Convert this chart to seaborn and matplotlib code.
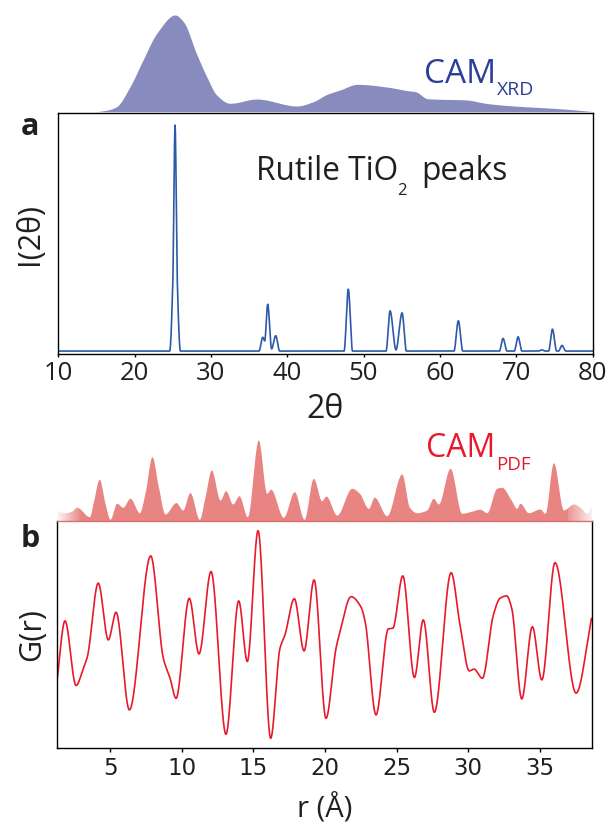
import numpy as np
import matplotlib
matplotlib.use('Agg')
import matplotlib.pyplot as plt
import seaborn as sns

# --- data ------------------------------------------------------------------
# (a) XRD pattern: 2theta / normalised intensity, read at baselines and peak tops
xrd_tt = [10, 24.6, 25.0, 25.3, 25.6, 26.0, 36.3, 36.79, 37.05, 37.44, 37.95,
          38.49, 39.0, 47.45, 48.0, 48.55, 52.95, 53.47, 54.25, 55.05, 55.6,
          61.85, 62.42, 63.0, 67.8, 68.28, 68.8, 69.75, 70.25, 70.75, 72.9,
          73.35, 73.8, 74.25, 74.75, 75.3, 75.55, 76.0, 76.5, 80]
xrd_int = [0, 0, 0.3, 1.0, 0.3, 0, 0, 0.061, 0.045, 0.207, 0.01,
           0.068, 0, 0, 0.274, 0, 0, 0.178, 0.005, 0.169, 0,
           0, 0.134, 0, 0, 0.056, 0, 0, 0.063, 0, 0,
           0.005, 0, 0, 0.097, 0, 0, 0.025, 0, 0]
xrd_ticks = [10, 20, 30, 40, 50, 60, 70, 80]

# class activation map over 2theta
cam_xrd_tt = [10, 14.5, 16.3, 17.6, 19.4, 21.1, 22.9, 25.3, 26.4, 28.1, 29.45,
              30.76, 32.5, 36.0, 41.25, 43.4, 45.2, 46.9, 49.2, 53.3, 55.8,
              56.8, 58.4, 63.5, 66.0, 68.5, 76.2, 80]
cam_xrd_val = [0, 0, 0.015, 0.05, 0.259, 0.535, 0.81, 1.0, 0.93, 0.6, 0.362,
               0.172, 0.087, 0.131, 0.059, 0.103, 0.179, 0.224, 0.283, 0.252, 0.217,
               0.207, 0.134, 0.121, 0.087, 0.066, 0.028, 0.002]

# (b) pair distribution function G(r), read at extrema and shoulders
pdf_r = [1.28, 1.86, 2.63, 3.14, 3.42, 4.18, 4.88, 5.42, 6.35, 7.84, 8.72,
         9.19, 9.61, 10.53, 11.21, 12.05, 13.09, 13.98, 14.58, 15.33, 16.21,
         16.86, 17.21, 17.86, 18.54, 19.24, 20.07, 20.77, 21.05, 21.82, 22.5,
         22.8, 23.56, 24.42, 24.73, 25.43, 26.24, 26.86, 27.63, 28.8, 29.42,
         30.07, 30.4, 30.98, 31.75, 32.21, 32.68, 33.03, 33.73, 34.47, 35.13,
         36.05, 37.52, 38.6]
pdf_g = [-1.08, 0.475, -1.14, -0.71, -0.42, 1.42, 0.0, 0.69, -1.75, 2.1, -0.46,
         -0.96, -1.46, 1.04, -0.35, 1.71, -2.36, 0.975, -0.54, 2.73, -2.46,
         -0.21, 0.125, 1.03, -0.275, 1.5, -1.96, -0.21, 0.21, 1.08, 0.83,
         0.46, -1.875, 0.275, 0.29, 1.6, -0.94, 0.5, -1.81, 1.68, 0.375,
         -0.775, -0.73, -0.96, 0.625, 1.04, 1.1, 0.79, -1.475, 0.33, -1.0,
         1.93, -1.33, 0.54]
pdf_ticks = [5, 10, 15, 20, 25, 30, 35]

# class activation map over r
cam_pdf_r = [1.28, 1.86, 2.33, 2.68, 3.56, 3.84, 4.25, 4.65, 5.0, 5.47, 5.89,
             6.4, 7.05, 7.44, 7.93, 8.37, 8.84, 9.6, 10.07, 10.58, 11.23,
             11.63, 12.07, 12.68, 13.07, 13.56, 14.0, 14.58, 15.35, 15.93, 16.21,
             17.09, 17.86, 18.54, 19.19, 19.77, 20.07, 20.82, 21.87, 22.4, 23.03,
             23.44, 24.31, 25.36, 25.89, 26.4, 27.1, 27.56, 27.91, 28.73, 29.54,
             30.12, 30.82, 31.29, 31.98, 32.33, 32.96, 33.38, 33.61, 34.19, 35.0,
             35.35, 35.94, 36.64, 37.34, 37.8, 38.27, 38.6]
cam_pdf_val = [0.134, 0.10, 0.121, 0.168, 0.05, 0.238, 0.518, 0.218, 0.018, 0.218, 0.168,
               0.281, 0.10, 0.343, 0.801, 0.426, 0.084, 0.226, 0.134, 0.351, 0.018,
               0.301, 0.634, 0.259, 0.375, 0.209, 0.313, 0.05, 1.009, 0.343, 0.393,
               0.043, 0.363, 0.018, 0.53, 0.25, 0.308, 0.071, 0.405, 0.343, 0.155,
               0.293, 0.063, 0.584, 0.168, 0.10, 0.134, 0.28, 0.209, 0.655, 0.093,
               0.113, 0.143, 0.10, 0.405, 0.418, 0.268, 0.155, 0.218, 0.10, 0.146,
               0.093, 0.725, 0.134, 0.209, 0.168, 0.093, 0.184]


def pchip(x, y, xs):
    """Shape-preserving cubic through the read points (for a smooth line)."""
    x = np.asarray(x, float)
    y = np.asarray(y, float)
    h = np.diff(x)
    d = np.diff(y) / h
    m = np.zeros_like(y)
    for k in range(1, len(x) - 1):
        if d[k - 1] * d[k] > 0:
            w1 = 2 * h[k] + h[k - 1]
            w2 = h[k] + 2 * h[k - 1]
            m[k] = (w1 + w2) / (w1 / d[k - 1] + w2 / d[k])
    m[0], m[-1] = d[0], d[-1]
    i = np.clip(np.searchsorted(x, xs) - 1, 0, len(h) - 1)
    t = (xs - x[i]) / h[i]
    h00 = 2 * t**3 - 3 * t**2 + 1
    h10 = t**3 - 2 * t**2 + t
    h01 = -2 * t**3 + 3 * t**2
    h11 = t**3 - t**2
    return h00 * y[i] + h10 * h[i] * m[i] + h01 * y[i + 1] + h11 * h[i] * m[i + 1]


sns.set_theme(style="white")
plt.rcParams['font.family'] = ['Open Sans', 'DejaVu Sans']
TXT = '#231f20'

W, H = 608, 826
fig = plt.figure(figsize=(W / 100, H / 100), dpi=100)


def box(l, t, r, b):
    return [l / W, 1 - b / H, (r - l) / W, (b - t) / H]


def ftext(x, y, s, **kw):
    # place text by pixel position (from top-left), baseline anchored
    return fig.text(x / W, 1 - y / H, s, va='baseline', ha='left', **kw)


ax_a = fig.add_axes(box(58.3, 113.3, 592.5, 354))
ax_xrd = fig.add_axes(box(58.3, 5, 592.5, 111.7))
ax_pdf = fig.add_axes(box(56.7, 430, 591.7, 520.7))
ax_b = fig.add_axes(box(56.7, 520.7, 591.7, 748.3))

# --- panel a -----------------------------------------------------------------
tt = np.linspace(10, 80, 4000)
sns.lineplot(x=tt, y=pchip(xrd_tt, xrd_int, tt), ax=ax_a, color='#2c5aa9', lw=1.2)
ax_a.set_xlim(10, 80)
ax_a.set_ylim(-0.013, 1.052)
ax_a.set_xticks(xrd_ticks)
ax_a.set_yticks([])
ax_a.tick_params(axis='x', bottom=True, direction='out', length=2.5, width=1,
                 pad=2.5, labelsize=18.5, labelcolor=TXT, color='black')
for s in ax_a.spines.values():
    s.set_color('black')
    s.set_linewidth(1.0)
ax_a.set_xlabel('2θ', fontsize=23, color=TXT)
ax_a.xaxis.set_label_coords(0.5, -0.162)
ax_a.set_ylabel('I(2θ)', fontsize=22, color=TXT)
ax_a.yaxis.set_label_coords(-0.025, 0.5)
ftext(256, 180, 'Rutile TiO', fontsize=22.8, color=TXT)
ftext(397.5, 195, '2', fontsize=12, color=TXT)
ftext(421, 180, 'peaks', fontsize=22.8, color=TXT)

cam_t = np.linspace(10, 80, 2000)
ax_xrd.fill_between(cam_t, 0, np.clip(pchip(cam_xrd_tt, cam_xrd_val, cam_t), 0, None),
                    color='#888bbe', lw=0)
ax_xrd.set_xlim(10, 80)
ax_xrd.set_ylim(0, 1.103)
ax_xrd.axis('off')
ftext(423.5, 83.3, 'CAM', fontsize=24, color='#2b3f98')
ftext(497, 95, 'XRD', fontsize=14, color='#2b3f98')

# --- panel b -----------------------------------------------------------------
rr = np.linspace(pdf_r[0], pdf_r[-1], 4000)
sns.lineplot(x=rr, y=pchip(pdf_r, pdf_g, rr), ax=ax_b, color='#e8192c', lw=1.2)
ax_b.set_xlim(1.28, 38.61)
ax_b.set_ylim(-2.71, 2.98)
ax_b.set_xticks(pdf_ticks)
ax_b.set_yticks([])
ax_b.tick_params(axis='x', bottom=True, direction='out', length=3, width=1,
                 pad=3.5, labelsize=16.5, labelcolor=TXT, color='black')
for lab in ax_b.get_xticklabels():
    lab.set_fontfamily('DejaVu Sans')
for s in ax_b.spines.values():
    s.set_color('black')
    s.set_linewidth(1.0)
ax_b.spines['top'].set_color('#d9716e')
ax_b.set_xlabel('r (Å)', fontsize=21, color=TXT)
ax_b.xaxis.set_label_coords(0.5, -0.2)
ax_b.set_ylabel('G(r)', fontsize=22, color=TXT)
ax_b.yaxis.set_label_coords(-0.018, 0.5)

cam_r = np.linspace(cam_pdf_r[0], cam_pdf_r[-1], 3000)
ax_pdf.fill_between(cam_r, 0, np.clip(pchip(cam_pdf_r, cam_pdf_val, cam_r), 0, None),
                    color='#e88482', lw=0)
# white fades at both ends of the map
fade = np.ones((1, 64, 4))
fade[..., 3] = np.linspace(0.95, 0, 64)
ax_pdf.imshow(fade, extent=[0, 0.045, 0, 1], transform=ax_pdf.transAxes,
              aspect='auto', zorder=3)
fade_r = np.ones((1, 64, 4))
fade_r[..., 3] = np.linspace(0.15, 0.9, 64)
ax_pdf.imshow(fade_r, extent=[0.955, 1.0, 0, 1], transform=ax_pdf.transAxes,
              aspect='auto', zorder=3)
ax_pdf.set_xlim(1.28, 38.61)
ax_pdf.set_ylim(0, 1.134)
ax_pdf.axis('off')
ftext(426, 456.7, 'CAM', fontsize=23, color='#e8192c')
ftext(496.5, 470, 'PDF', fontsize=13.5, color='#e8192c')

# panel letters
ftext(21, 135, 'a', fontsize=22, fontweight='bold', color=TXT)
ftext(21, 546.7, 'b', fontsize=22, fontweight='bold', color=TXT)

fig.savefig('out.png', dpi=100)
